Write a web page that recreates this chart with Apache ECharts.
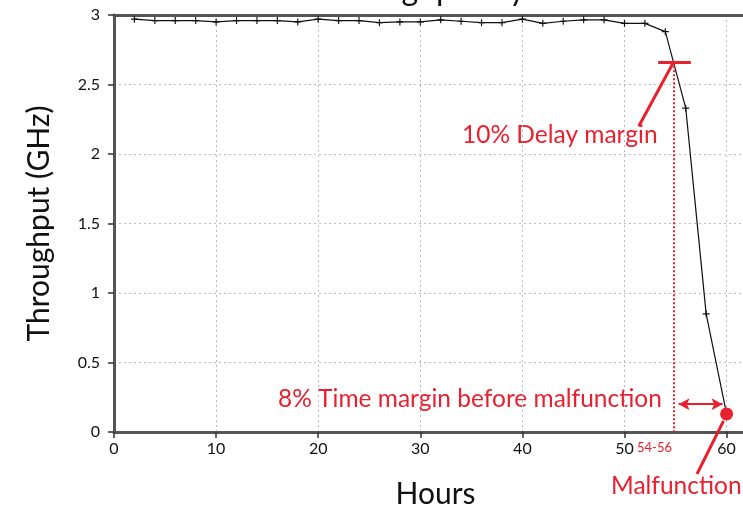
<!DOCTYPE html>
<html>
<head>
<meta charset="utf-8">
<script src="https://cdn.jsdelivr.net/npm/echarts@6/dist/echarts.min.js"></script>
<style>
  html, body { margin: 0; padding: 0; background: #fff; }
  #main { width: 743px; height: 505px; }
</style>
</head>
<body>
<div id="main"></div>
<script>
// hours and measured throughput (GHz)
var hours = [2, 4, 6, 8, 10, 12, 14, 16, 18, 20, 22, 24, 26, 28, 30, 32, 34, 36, 38, 40,
             42, 44, 46, 48, 50, 52, 54, 56, 58, 60];
var throughput = [2.97, 2.96, 2.96, 2.96, 2.95, 2.96, 2.96, 2.96, 2.95, 2.97, 2.96, 2.96, 2.945, 2.95,
                  2.95, 2.965, 2.955, 2.945, 2.945, 2.97, 2.94, 2.955, 2.965, 2.965, 2.94, 2.94,
                  2.88, 2.33, 0.85, 0.13];

var RED = '#e8202f';
var FONT = 'Lato';

var chart = echarts.init(document.getElementById('main'));

var points = hours.map(function (h, i) {
  var p = { value: [h, throughput[i]] };
  if (i === hours.length - 1) {
    p.symbol = 'circle';
    p.symbolSize = 13;
    p.itemStyle = { color: RED };
  }
  return p;
});

var texts = [
  { id: 'title', type: 'text', left: 318, top: -26, style: { text: 'Throughput by Time', font: '32px ' + FONT, fill: '#111' } },
  { id: 't1', type: 'text', left: 462, top: 123, style: { text: '10% Delay margin', font: '24.5px ' + FONT, fill: RED } },
  { id: 't2', type: 'text', left: 278, top: 387, style: { text: '8% Time margin before malfunction', font: '24.5px ' + FONT, fill: RED } },
  { id: 't3', type: 'text', left: 637, top: 441, style: { text: '54-56', font: '13px ' + FONT, fill: RED } },
  { id: 't4', type: 'text', left: 611, top: 474, style: { text: 'Malfunction', font: '24.5px ' + FONT, fill: RED } }
];

chart.setOption({
  animation: false,
  grid: { left: 114, right: -4, top: 15, bottom: 73, outerBoundsMode: 'none', containLabel: false },
  xAxis: [{
    type: 'value',
    min: 0, max: 62, interval: 10,
    name: 'Hours',
    nameLocation: 'middle',
    nameGap: 47,
    nameTextStyle: { fontFamily: FONT, fontSize: 30, color: '#111', padding: [0, 0, 0, 10] },
    axisLine: { lineStyle: { color: '#555', width: 3 } },
    axisTick: { show: true, length: 6, lineStyle: { color: '#333', width: 1.5 } },
    axisLabel: { fontFamily: FONT, fontSize: 16, color: '#111', margin: 9, showMaxLabel: false,
      formatter: function (v) { return v % 10 === 0 ? String(v) : ''; } },
    splitLine: { show: true, lineStyle: { color: '#bbb', type: [2, 3], width: 1 } }
  }, {
    type: 'value', position: 'top', min: 0, max: 62,
    axisLine: { show: true, lineStyle: { color: '#555', width: 3 } },
    axisTick: { show: false }, axisLabel: { show: false }, splitLine: { show: false }
  }],
  yAxis: {
    type: 'value',
    min: 0, max: 3, interval: 0.5,
    name: 'Throughput (GHz)',
    nameLocation: 'middle',
    nameGap: 60,
    nameTextStyle: { fontFamily: FONT, fontSize: 30, color: '#111' },
    axisLine: { show: true, lineStyle: { color: '#555', width: 3 } },
    axisTick: { show: true, length: 6, lineStyle: { color: '#333', width: 1.5 } },
    axisLabel: { fontFamily: FONT, fontSize: 16, color: '#111', margin: 14 },
    splitLine: { show: true, lineStyle: { color: '#bbb', type: [2, 3], width: 1 } }
  },
  graphic: texts,
  series: [{
    type: 'line',
    data: points,
    clip: false,
    symbol: 'path://M-1,-6H1V-1H6V1H1V6H-1V1H-6V-1H-1Z',
    symbolSize: 7,
    itemStyle: { color: '#111' },
    lineStyle: { color: '#111', width: 1.2 },
    markLine: {
      silent: true,
      symbol: 'none',
      label: { show: false },
      data: [
        [{ coord: [53.3, 2.66], lineStyle: { color: RED, width: 3, type: 'solid' } }, { coord: [56.5, 2.66] }],
        [{ coord: [54.8, 2.66], lineStyle: { color: RED, width: 3, type: 'solid' } }, { coord: [51.4, 2.2] }],
        [{ coord: [54.8, 2.66], lineStyle: { color: RED, width: 2, type: [2, 2] } }, { coord: [54.8, 0] }],
        [{ coord: [55.3, 0.2], symbol: 'arrow', symbolSize: [9, 11], lineStyle: { color: RED, width: 2, type: 'solid' } },
         { coord: [59.6, 0.2], symbol: 'arrow', symbolSize: [9, 11] }]
      ]
    }
  }]
});

// leader line from the malfunction point down to its label
var dot = chart.convertToPixel({ gridIndex: 0 }, [59.7, 0.08]);
chart.setOption({
  graphic: texts.concat([{
    id: 'leader',
    type: 'line',
    shape: { x1: dot[0], y1: dot[1], x2: 697, y2: 474 },
    style: { stroke: RED, lineWidth: 3 },
    z: 5
  }])
});
</script>
</body>
</html>
